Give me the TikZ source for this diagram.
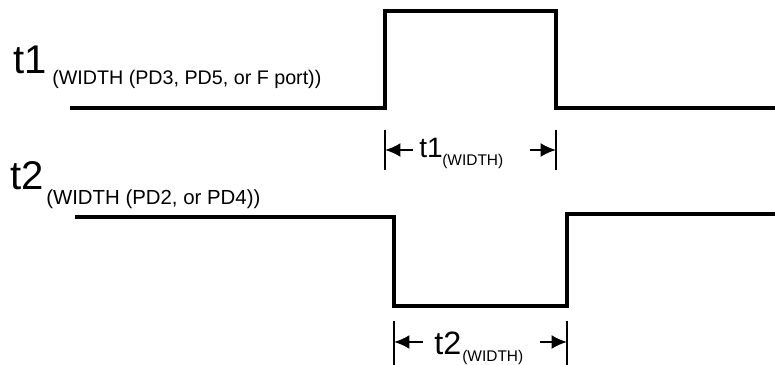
\documentclass[tikz,border=0pt]{standalone}
\usepackage{fontspec}
\setmainfont{Liberation Sans}
\usetikzlibrary{arrows.meta}

\begin{document}
\begin{tikzpicture}[x=0.025cm,y=-0.025cm,
    wave/.style={line width=2.2pt,line join=miter},
    tick/.style={line width=1.8pt},
    dim/.style={line width=1.6pt,-{Latex[length=11pt,width=10pt]}},
    big/.style={inner sep=0pt,anchor=base west,font=\fontsize{28.5}{28.5}\selectfont},
    mid/.style={inner sep=0pt,anchor=base west,font=\fontsize{20}{20}\selectfont},
    sub/.style={inner sep=0pt,anchor=base west,font=\fontsize{14}{14}\selectfont},
    tiny/.style={inner sep=0pt,anchor=base west,font=\fontsize{11}{11}\selectfont}]
    \useasboundingbox (0,0) rectangle (775,365);

    % upper signal
    \begin{scope}
      \coordinate(A)at(70,108);
      \coordinate(B)at(385,108);
      \coordinate(C)at(385,11);
      \coordinate(D)at(556,11);
      \coordinate(E)at(556,108);
      \coordinate(F)at(775,108);
      \draw[wave](A)--(B)--(C)--(D)--(E)--(F);
      \node[big](t1)at(13,74){t1};
      \node[sub](t1sub)at(52,85){(WIDTH (PD3, PD5, or F port))};
      % width marker
      \coordinate(P)at(385,130);
      \coordinate(Q)at(556,130);
      \draw[tick](P)--++(0,40) (Q)--++(0,40);
      \node[mid](w1)at(419,158){t1};
      \node[tiny](w1sub)at(442,166){(WIDTH)};
      \coordinate(Pa)at(385,150);
      \coordinate(Qa)at(556,150);
      \coordinate(Pt)at(413,150);
      \coordinate(Qt)at(530,150);
      \draw[dim](Pt)--(Pa);
      \draw[dim](Qt)--(Qa);
    \end{scope}

    % lower signal
    \begin{scope}
      \coordinate(A)at(75,217);
      \coordinate(B)at(394,217);
      \coordinate(C)at(394,306);
      \coordinate(D)at(567,306);
      \coordinate(E)at(567,214);
      \coordinate(F)at(775,214);
      \draw[wave](A)--(B)--(C)--(D)--(E)--(F);
      \node[big](t2)at(10,190){t2};
      \node[sub,font=\fontsize{14.5}{14.5}\selectfont](t2sub)at(46,205){(WIDTH (PD2, or PD4))};
      % width marker
      \coordinate(P)at(394,321);
      \coordinate(Q)at(567,321);
      \draw[tick](P)--++(0,44) (Q)--++(0,44);
      \node[mid,font=\fontsize{23}{23}\selectfont](w2)at(434,355){t2};
      \node[tiny](w2sub)at(462,362){(WIDTH)};
      \coordinate(Pa)at(394,342);
      \coordinate(Qa)at(567,342);
      \coordinate(Pt)at(423,342);
      \coordinate(Qt)at(540,342);
      \draw[dim](Pt)--(Pa);
      \draw[dim](Qt)--(Qa);
    \end{scope}
\end{tikzpicture}
\end{document}
